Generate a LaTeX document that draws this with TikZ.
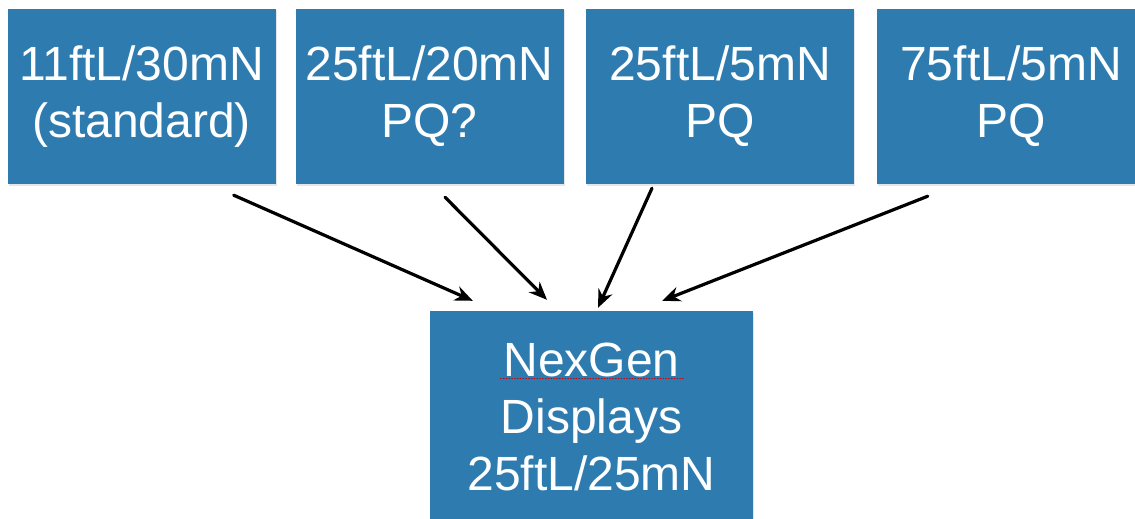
\documentclass[tikz,border=0pt]{standalone}
\usepackage{fontspec}
\setmainfont{Liberation Sans}
\usetikzlibrary{arrows.meta,calc,positioning,shadows}
\definecolor{boxblue}{RGB}{46,124,175}
\tikzset{
  blk/.style={rectangle, fill=boxblue, text=white, align=center, inner sep=0pt,
    font=\fontsize{48}{57}\selectfont,
    drop shadow={opacity=0.2, shadow xshift=1pt, shadow yshift=-1.5pt}},
  topblk/.style={blk, minimum width=268pt, minimum height=175pt},
  feed/.style={-{Stealth[length=18pt,width=15pt]}, line width=3.2pt, black},
  every picture/.style={line cap=round, line join=round}
}

\begin{document}
\begin{tikzpicture}[x=1pt,y=-1pt]
  \useasboundingbox (0,0) rectangle (1135,519);
  \clip (0,0) rectangle (1135,519);

  \node[topblk] (a) at (141.5,96.5) {11ftL/30mN\\(standard)};
  \node[topblk] (b) at (429.5,96.5) {25ftL/20mN\\PQ?};
  \node[topblk] (c) at (720,96.5) {25ftL/5mN\\PQ};
  \node[topblk] (d) at (1011,96.5) {75ftL/5mN\\PQ};
  \node[blk, minimum width=323pt, minimum height=211pt] (z) at (591.5,416.5)
    {NexGen\\Displays\\25ftL/25mN};

  % spell-check squiggle under NexGen
  \draw[red!80!black, dotted, line width=0.8pt]
    ([shift={(-91,68)}]z.north) -- ([shift={(93,68)}]z.north);

  \draw[feed] ([shift={(-42,11)}]a.south east) -- ([shift={(43,-10)}]z.north west);
  \draw[feed] ([shift={(15.5,13)}]b.south) -- ([shift={(-44.5,-11)}]z.north);
  \draw[feed] ([shift={(-68,4)}]c.south) -- ([shift={(6.5,-3)}]z.north);
  \draw[feed] ([shift={(51,12)}]d.south west) -- ([shift={(-91,-10)}]z.north east);
\end{tikzpicture}
\end{document}
